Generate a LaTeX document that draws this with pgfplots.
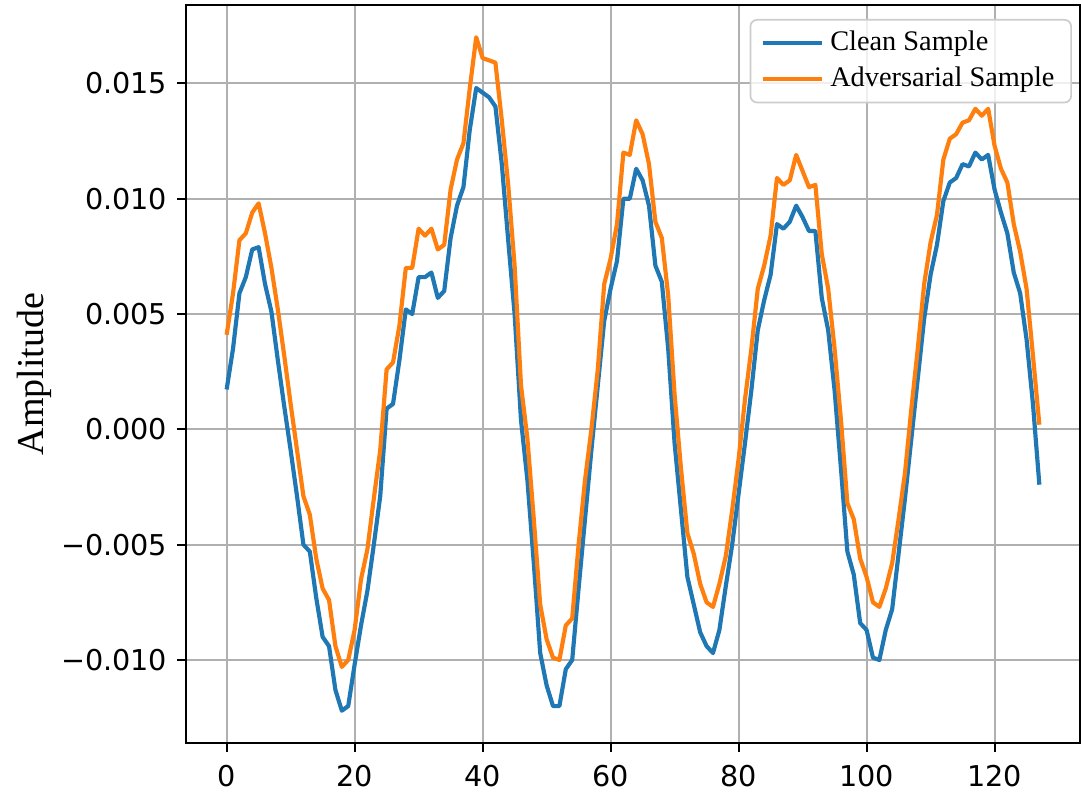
\documentclass[border=0pt]{standalone}
\usepackage{pgfplots}
\pgfplotsset{compat=1.18}
\usepackage{fontspec}
\setmainfont{Liberation Serif}
\newfontfamily\dejavu{DejaVu Sans}
\definecolor{mblue}{HTML}{1F77B4}
\definecolor{morange}{HTML}{FF7F0E}
\definecolor{gridc}{RGB}{176,176,176}
\definecolor{legc}{RGB}{204,204,204}
\begin{document}
\begin{tikzpicture}
\path[use as bounding box] (-55.8pt,-15pt) rectangle (268.5pt,222.9pt);
\begin{axis}[
  at={(0,0)}, anchor=south west,
  scale only axis, width=268.2pt, height=221.4pt,
  xmin=-6.35, xmax=133.35, ymin=-0.0136, ymax=0.0184,
  axis line style={line width=0.6pt, black},
  tick align=outside, tick pos=left, major tick length=2.6pt,
  tick style={line width=0.6pt, black},
  xtick={0,20,40,60,80,100,120},
  xticklabels={0,20,40,60,80,100,120},
  ytick={-0.01,-0.005,0,0.005,0.01,0.015},
  yticklabels={−0.010,−0.005,0.000,0.005,0.010,0.015},
  scaled y ticks=false,
  ticklabel style={font=\dejavu\fontsize{8.6}{10}\selectfont},
  xticklabel style={yshift=-0.5pt},
  yticklabel style={xshift=0.5pt},
  grid=major,
  major grid style={line width=0.6pt, gridc},
  ylabel={Amplitude},
  every axis y label/.style={at={(axis description cs:0,0.5)}, xshift=-45.5pt, rotate=90, anchor=center, font=\fontsize{11.4}{13}\selectfont},
  legend style={at={(1,1)}, anchor=north east, xshift=-2.4pt, yshift=-4.2pt,
    draw=legc, line width=0.5pt, rounded corners=2pt, fill=white, fill opacity=0.8, text opacity=1,
    font=\fontsize{8.5}{10}\selectfont, row sep=-0.6pt, inner xsep=3pt, inner ysep=1.3pt},
  legend cell align=left,
  legend image code/.code={\draw[#1] (0pt,0pt) -- (17.7pt,0pt);},
]
\addplot[mblue, line width=1.25pt, line join=round] coordinates {
(0,0.00173)(1,0.0035)(2,0.0059)(3,0.0066)(4,0.0078)(5,0.0079)(6,0.0063)(7,0.0051)(8,0.0030)(9,0.0010)
(10,-0.0009)(11,-0.0029)(12,-0.0050)(13,-0.0053)(14,-0.0073)(15,-0.0090)(16,-0.0094)(17,-0.0113)(18,-0.0122)(19,-0.0120)
(20,-0.0102)(21,-0.0085)(22,-0.0070)(23,-0.0050)(24,-0.0029)(25,0.0009)(26,0.0011)(27,0.0030)(28,0.0052)(29,0.0050)
(30,0.0066)(31,0.0066)(32,0.0068)(33,0.0057)(34,0.0060)(35,0.0083)(36,0.0097)(37,0.0105)(38,0.0130)(39,0.0148)
(40,0.0146)(41,0.0144)(42,0.0140)(43,0.0115)(44,0.0082)(45,0.0050)(46,0.0004)(47,-0.0022)(48,-0.0058)(49,-0.0097)
(50,-0.0111)(51,-0.0120)(52,-0.0120)(53,-0.0104)(54,-0.0100)(55,-0.0069)(56,-0.0039)(57,-0.0009)(58,0.0019)(59,0.0047)
(60,0.0061)(61,0.0073)(62,0.0100)(63,0.0100)(64,0.0113)(65,0.0108)(66,0.0097)(67,0.0071)(68,0.0064)(69,0.0035)
(70,-0.0006)(71,-0.0035)(72,-0.0064)(73,-0.0076)(74,-0.0088)(75,-0.0094)(76,-0.0097)(77,-0.0087)(78,-0.0068)(79,-0.0050)
(80,-0.0028)(81,-0.0006)(82,0.0017)(83,0.0043)(84,0.0056)(85,0.0067)(86,0.0089)(87,0.0087)(88,0.0090)(89,0.0097)
(90,0.0092)(91,0.0086)(92,0.0086)(93,0.0057)(94,0.0043)(95,0.0017)(96,-0.0017)(97,-0.0053)(98,-0.0063)(99,-0.0084)
(100,-0.0087)(101,-0.0099)(102,-0.0100)(103,-0.0087)(104,-0.0078)(105,-0.0054)(106,-0.0030)(107,-0.0004)(108,0.0022)(109,0.0048)
(110,0.0067)(111,0.0080)(112,0.0099)(113,0.0107)(114,0.0109)(115,0.0115)(116,0.0114)(117,0.0120)(118,0.0117)(119,0.0119)
(120,0.0104)(121,0.0094)(122,0.0085)(123,0.0068)(124,0.0059)(125,0.0039)(126,0.0011)(127,-0.0024)
};
\addlegendentry{Clean Sample}
\addplot[morange, line width=1.25pt, line join=round] coordinates {
(0,0.0041)(1,0.0059)(2,0.0082)(3,0.0085)(4,0.0094)(5,0.0098)(6,0.0085)(7,0.0070)(8,0.0052)(9,0.0032)
(10,0.0011)(11,-0.0009)(12,-0.0029)(13,-0.0037)(14,-0.0056)(15,-0.0069)(16,-0.0074)(17,-0.0094)(18,-0.0103)(19,-0.0100)
(20,-0.0087)(21,-0.0065)(22,-0.0052)(23,-0.0030)(24,-0.0009)(25,0.0026)(26,0.0029)(27,0.0045)(28,0.0070)(29,0.0070)
(30,0.0087)(31,0.0084)(32,0.0087)(33,0.0078)(34,0.0080)(35,0.0104)(36,0.0117)(37,0.0124)(38,0.0148)(39,0.0170)
(40,0.0161)(41,0.0160)(42,0.0159)(43,0.0134)(44,0.0106)(45,0.0071)(46,0.0019)(47,-0.0004)(48,-0.0039)(49,-0.0076)
(50,-0.0091)(51,-0.0099)(52,-0.0100)(53,-0.0085)(54,-0.0082)(55,-0.0050)(56,-0.0022)(57,0.0000)(58,0.0026)(59,0.0063)
(60,0.0074)(61,0.0089)(62,0.0120)(63,0.0119)(64,0.0134)(65,0.0128)(66,0.0115)(67,0.0090)(68,0.0083)(69,0.0058)
(70,0.0015)(71,-0.0017)(72,-0.0045)(73,-0.0054)(74,-0.0067)(75,-0.0075)(76,-0.0077)(77,-0.0067)(78,-0.0055)(79,-0.0035)
(80,-0.0013)(81,0.0013)(82,0.0035)(83,0.0061)(84,0.0071)(85,0.0084)(86,0.0109)(87,0.0106)(88,0.0108)(89,0.0119)
(90,0.0112)(91,0.0105)(92,0.0106)(93,0.0076)(94,0.0061)(95,0.0035)(96,0.0004)(97,-0.0032)(98,-0.0039)(99,-0.0056)
(100,-0.0064)(101,-0.0075)(102,-0.0077)(103,-0.0069)(104,-0.0058)(105,-0.0039)(106,-0.0019)(107,0.0009)(108,0.0035)(109,0.0063)
(110,0.0081)(111,0.0093)(112,0.0117)(113,0.0126)(114,0.0128)(115,0.0133)(116,0.0134)(117,0.0139)(118,0.0136)(119,0.0139)
(120,0.0123)(121,0.0113)(122,0.0107)(123,0.0089)(124,0.0077)(125,0.0061)(126,0.0032)(127,0.0002)
};
\addlegendentry{Adversarial Sample}
\end{axis}
\end{tikzpicture}
\end{document}
